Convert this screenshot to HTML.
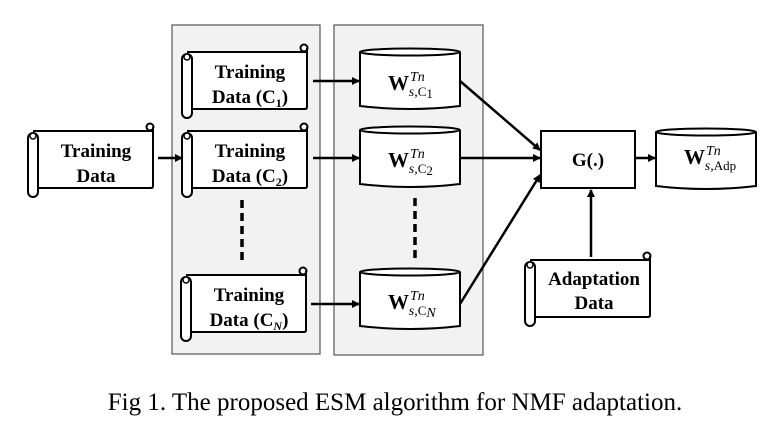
<!DOCTYPE html>
<html><head><meta charset="utf-8"><style>
body{margin:0;background:#fff;width:775px;height:421px;overflow:hidden}
svg{display:block}
.t{font-family:"Liberation Serif",serif;font-weight:bold;font-size:19px;text-anchor:middle}
.m{font-family:"Liberation Serif",serif;font-weight:bold;font-size:21px}
.s{font-family:"Liberation Serif",serif;font-style:italic;font-size:14px}
.c{font-family:"Liberation Serif",serif;font-size:13px}
</style></head><body>
<svg width="775" height="421" viewBox="0 0 775 421">
<defs>
<marker id="a" markerWidth="8" markerHeight="8" refX="7" refY="4" orient="auto" markerUnits="userSpaceOnUse"><path d="M0,0 L8,4 L0,8 z" fill="#000"/></marker>
<g id="scroll">
<rect x="5" y="7" width="120" height="57" fill="#fff"/>
<path d="M5,7 H125 V62 Q125,64 123,64 H10" fill="none" stroke="#000" stroke-width="2"/>
<circle cx="122" cy="3" r="3.5" fill="#fff" stroke="#000" stroke-width="2"/>
<line x1="125" y1="3" x2="125" y2="8" stroke="#000" stroke-width="2"/>
<rect x="0" y="9" width="10" height="64" rx="5" fill="#fff" stroke="#000" stroke-width="2"/>
<circle cx="5" cy="12" r="3" fill="#fff" stroke="#000" stroke-width="1.5"/>
</g>
<g id="cyl">
<path d="M0,4 V58 Q50,64 100,58 V4" fill="#fff" stroke="#000" stroke-width="2"/>
<ellipse cx="50" cy="4" rx="50" ry="3.5" fill="#fff" stroke="#000" stroke-width="2"/>
</g>
</defs>
<rect x="172" y="25" width="148" height="329" fill="#f2f2f2" stroke="#555" stroke-width="1.2"/>
<rect x="334" y="25" width="149" height="330" fill="#f2f2f2" stroke="#555" stroke-width="1.2"/>

<g transform="translate(28,124)"><use href="#scroll"/></g>
<text class="t" x="96" y="157">Training</text><text class="t" x="96" y="182">Data</text>

<g transform="translate(182,45)"><use href="#scroll"/></g>
<text class="t" x="250" y="78">Training</text><text class="t" x="250" y="103">Data (C<tspan font-size="12" dy="4">1</tspan><tspan dy="-4">)</tspan></text>
<g transform="translate(182,124)"><use href="#scroll"/></g>
<text class="t" x="250" y="157">Training</text><text class="t" x="250" y="182">Data (C<tspan font-size="12" dy="4">2</tspan><tspan dy="-4">)</tspan></text>
<g transform="translate(181,268)"><use href="#scroll"/></g>
<text class="t" x="249" y="301">Training</text><text class="t" x="249" y="326">Data (C<tspan font-size="12" dy="4" font-style="italic">N</tspan><tspan dy="-4">)</tspan></text>

<line x1="242" y1="200" x2="242" y2="265" stroke="#000" stroke-width="3.5" stroke-dasharray="8,5"/>
<line x1="415" y1="198" x2="415" y2="262" stroke="#000" stroke-width="3.5" stroke-dasharray="8,5"/>

<g transform="translate(360,48)"><use href="#cyl"/></g>
<g transform="translate(360,126)"><use href="#cyl"/></g>
<g transform="translate(360,268)"><use href="#cyl"/></g>
<g transform="translate(656,128)"><use href="#cyl"/></g>

<text x="388" y="90"><tspan class="m">W</tspan><tspan class="s" dx="1" dy="-9">Tn</tspan><tspan class="s" dx="-16" dy="15">s,</tspan><tspan class="c">C</tspan><tspan class="c" font-size="10" dy="2">1</tspan></text>
<text x="388" y="167"><tspan class="m">W</tspan><tspan class="s" dx="1" dy="-9">Tn</tspan><tspan class="s" dx="-16" dy="15">s,</tspan><tspan class="c">C</tspan><tspan class="c" font-size="10" dy="2">2</tspan></text>
<text x="388" y="309"><tspan class="m">W</tspan><tspan class="s" dx="1" dy="-9">Tn</tspan><tspan class="s" dx="-16" dy="15">s,</tspan><tspan class="c">C</tspan><tspan class="s" font-size="10" dy="2">N</tspan></text>
<text x="684" y="164"><tspan class="m">W</tspan><tspan class="s" dx="1" dy="-9">Tn</tspan><tspan class="s" dx="-16" dy="15">s,</tspan><tspan class="c">Adp</tspan></text>

<rect x="541" y="131" width="94" height="57" fill="#fff" stroke="#000" stroke-width="2"/>
<text class="t" x="588" y="166">G(.)</text>

<g transform="translate(525,253)"><use href="#scroll"/></g>
<text class="t" x="594" y="285">Adaptation</text><text class="t" x="594" y="309">Data</text>

<g stroke="#000" stroke-width="2.5" marker-end="url(#a)">
<line x1="158" y1="158" x2="182" y2="158"/>
<line x1="313" y1="81" x2="359" y2="81"/>
<line x1="313" y1="158" x2="359" y2="158"/>
<line x1="311" y1="304" x2="359" y2="304"/>
<line x1="460" y1="81" x2="540" y2="150"/>
<line x1="460" y1="158" x2="540" y2="158"/>
<line x1="460" y1="304" x2="540" y2="175"/>
<line x1="635" y1="158" x2="655" y2="158"/>
<line x1="591" y1="257" x2="591" y2="190"/>
</g>

<text x="395" y="410" font-family="Liberation Serif,serif" font-size="25" text-anchor="middle">Fig 1. The proposed ESM algorithm for NMF adaptation.</text>
</svg>
</body></html>
